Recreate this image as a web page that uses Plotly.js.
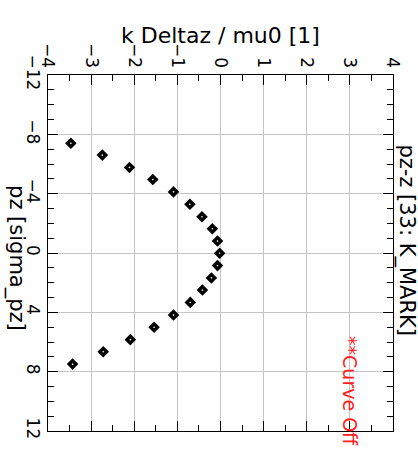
<!DOCTYPE html>
<html>
<head>
<meta charset="utf-8">
<script src="https://cdn.plot.ly/plotly-3.0.1.min.js"></script>
<style>
  html, body { margin: 0; padding: 0; background: #ffffff; }
  #chart { width: 418px; height: 454px; }
</style>
</head>
<body>
<div id="chart"></div>
<script>
// Mark positions along the bunch (pz in units of sigma_pz)
const pzValues = [-7.40, -6.60, -5.77, -4.95, -4.12, -3.29, -2.44, -1.63, -0.81, 0.02,
                  0.85, 1.68, 2.50, 3.33, 4.18, 5.01, 5.84, 6.66, 7.49];
// k * Delta z / mu0 at each position
const kDeltaz = [-3.47, -2.74, -2.11, -1.57, -1.09, -0.71, -0.43, -0.19, -0.07, -0.02,
                 -0.07, -0.21, -0.42, -0.70, -1.09, -1.54, -2.09, -2.72, -3.43];

const xTitle = 'k Deltaz / mu0 [1]';
const yTitle = 'pz [sigma_pz]';
const plotTitle = 'pz-z [33: K_MARK]';
const statusNote = '**Curve Off';

const FONT = 'DejaVu Sans, sans-serif';

const trace = {
  x: kDeltaz,
  y: pzValues,
  type: 'scatter',
  mode: 'markers',
  marker: {
    symbol: 'diamond-open',
    size: 5.2,
    color: '#000000',
    line: { color: '#000000', width: 3.4 }
  },
  hoverinfo: 'x+y'
};

const axisCommon = {
  showline: true,
  linecolor: '#000000',
  linewidth: 1,
  mirror: 'allticks',
  ticks: 'inside',
  ticklen: 10,
  tickwidth: 1,
  tickcolor: '#000000',
  tickangle: 90,
  showgrid: true,
  gridcolor: '#c4c4c4',
  gridwidth: 1,
  zeroline: false,
  tickfont: { family: FONT, size: 17, color: '#000000' }
};

const layout = {
  width: 418,
  height: 454,
  margin: { l: 48, r: 25, t: 75, b: 23, pad: 0 },
  paper_bgcolor: '#ffffff',
  plot_bgcolor: '#ffffff',
  showlegend: false,
  xaxis: Object.assign({}, axisCommon, {
    side: 'top',
    range: [-4, 4],
    tick0: 0,
    dtick: 1,
    minor: { dtick: 0.5, ticks: 'inside', ticklen: 6, tickcolor: '#000000', showgrid: false },
    title: { text: '' }
  }),
  yaxis: Object.assign({}, axisCommon, {
    range: [12, -12],
    tick0: 0,
    dtick: 4,
    minor: { dtick: 1, ticks: 'inside', ticklen: 6, tickcolor: '#000000', showgrid: false },
    title: { text: '' }
  }),
  annotations: [
    {
      // horizontal-axis title, above the tick labels
      text: xTitle,
      xref: 'paper', yref: 'paper',
      x: 0.5, y: 1.11,
      xanchor: 'center', yanchor: 'middle',
      showarrow: false,
      font: { family: FONT, size: 22, color: '#000000' }
    },
    {
      text: yTitle,
      xref: 'paper', yref: 'paper',
      x: -0.093, y: 0.486,
      xanchor: 'center', yanchor: 'middle',
      textangle: 90,
      showarrow: false,
      font: { family: FONT, size: 21, color: '#000000' }
    },
    {
      text: plotTitle,
      xref: 'paper', yref: 'paper',
      x: 1.04, y: 0.536,
      xanchor: 'center', yanchor: 'middle',
      textangle: 90,
      showarrow: false,
      font: { family: FONT, size: 21, color: '#000000' }
    },
    {
      text: statusNote,
      xref: 'x', yref: 'y',
      x: 3, y: 9.3,
      xanchor: 'center', yanchor: 'middle',
      textangle: 90,
      showarrow: false,
      font: { family: FONT, size: 19, color: '#ff2020' }
    }
  ]
};

Plotly.newPlot('chart', [trace], layout, { displayModeBar: false, staticPlot: true });
</script>
</body>
</html>
